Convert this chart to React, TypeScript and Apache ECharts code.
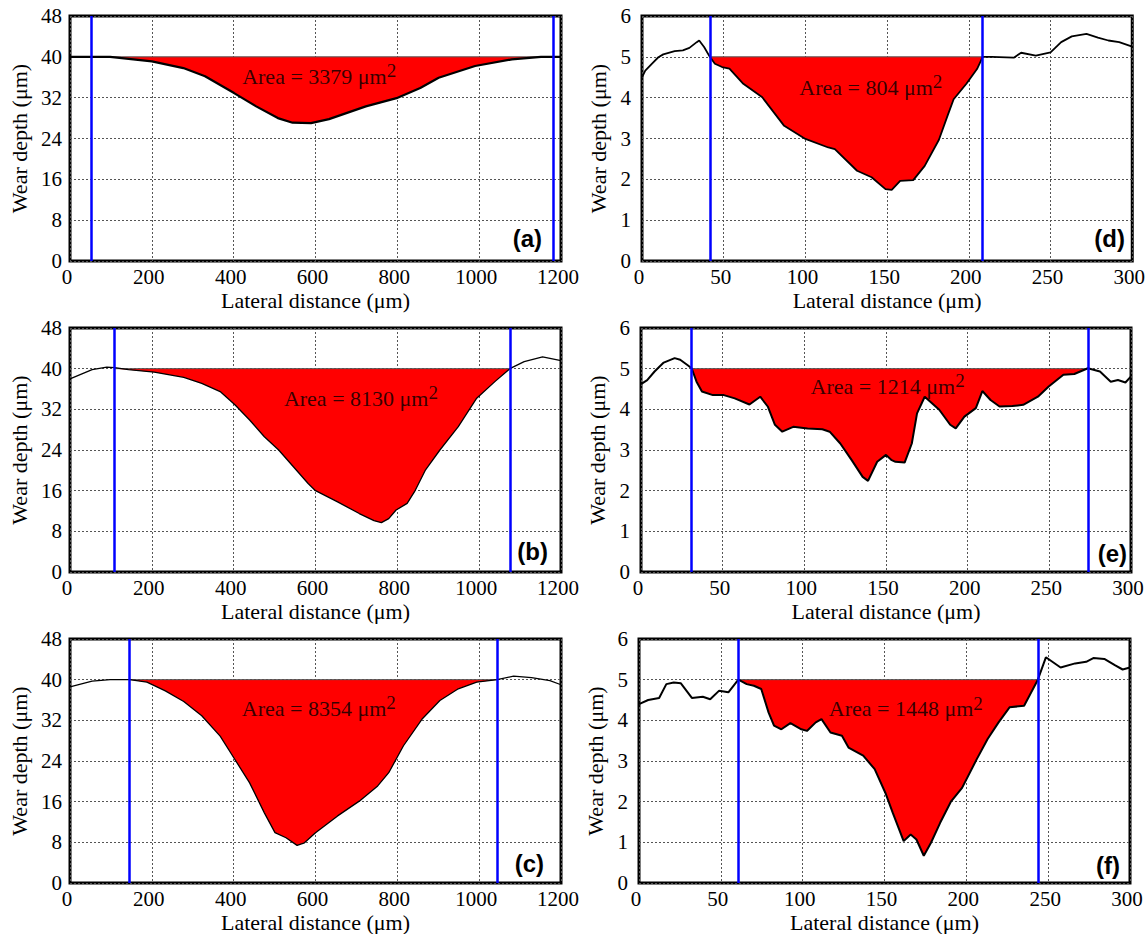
import React, { useEffect, useRef } from "react";
import * as echarts from "echarts";

// ---------- DATA ----------
// Panel (a)
const aX = [0, 51, 98, 200, 277, 330, 401, 455, 508, 544, 589, 633, 723, 798, 856, 901, 990, 1080, 1151, 1182, 1200];
const aY = [40, 40, 40, 39.1, 37.8, 36.2, 32.9, 30.3, 28.0, 27.1, 27.0, 27.8, 30.3, 31.9, 33.9, 35.9, 38.2, 39.5, 40, 40, 40];
// Panel (b)
const bX = [0, 54, 90, 109, 143, 206, 278, 322, 367, 403, 439, 475, 510, 546, 582, 600, 654, 707, 743, 761, 779, 797, 824, 842, 869, 904, 949, 994, 1039, 1075, 1110, 1155, 1200];
const bY = [38.0, 39.8, 40.3, 40.2, 39.8, 39.3, 38.3, 37.1, 35.5, 32.9, 29.9, 26.6, 24.0, 20.7, 17.4, 16.0, 13.8, 11.5, 10.1, 9.7, 10.5, 12.2, 13.5, 15.8, 20.1, 24.0, 28.6, 34.2, 37.5, 40.0, 41.4, 42.3, 41.6];
// Panel (c)
const cX = [0, 54, 98, 146, 188, 233, 278, 322, 367, 403, 439, 475, 501, 528, 555, 573, 600, 654, 707, 752, 779, 815, 860, 904, 949, 994, 1044, 1084, 1128, 1173, 1200];
const cY = [38.6, 39.7, 40.0, 40.0, 39.5, 37.8, 35.7, 32.9, 28.9, 24.3, 19.7, 13.8, 9.9, 8.9, 7.4, 7.9, 9.9, 13.2, 16.1, 19.1, 21.7, 27.0, 32.2, 35.9, 38.2, 39.5, 40.0, 40.7, 40.4, 39.8, 39.0];
// Panel (d)
const dX = [0, 2, 6, 10, 13, 20, 25, 29, 33.5, 35, 38, 41.5, 44.6, 49, 53.5, 62, 73.6, 87, 100, 114, 118, 131.6, 140.5, 149, 152.8, 158, 166, 173, 181.7, 187, 190.7, 198.5, 205, 208.5, 214, 227.5, 232, 241, 250, 256.5, 263, 272, 279, 285.4, 292, 300];
const dY = [4.5, 4.66, 4.83, 4.99, 5.06, 5.14, 5.16, 5.22, 5.36, 5.40, 5.24, 5.0, 4.83, 4.75, 4.71, 4.34, 4.01, 3.31, 2.99, 2.78, 2.74, 2.21, 2.05, 1.76, 1.74, 1.96, 1.98, 2.33, 2.97, 3.56, 3.96, 4.34, 4.7, 5.0, 5.0, 4.98, 5.10, 5.03, 5.11, 5.36, 5.50, 5.56, 5.47, 5.40, 5.36, 5.25];
// Panel (e)
const eX = [0, 3.8, 8.3, 13.9, 20.6, 24, 28.4, 31, 34, 37.3, 44, 50.7, 57.4, 66.4, 73, 77.6, 82, 86.5, 93.2, 102, 111, 115.5, 122, 129, 135.7, 139, 144.6, 150, 153.5, 155.8, 161.4, 165.8, 169, 173.7, 182.6, 189.3, 192.7, 198, 205, 209, 214, 219.5, 227.3, 234, 243, 249.6, 258.6, 265.3, 273.6, 281, 287.6, 292, 296.6, 300];
const eY = [4.62, 4.72, 4.93, 5.15, 5.26, 5.22, 5.09, 5.01, 4.68, 4.44, 4.35, 4.35, 4.27, 4.12, 4.31, 4.07, 3.62, 3.45, 3.57, 3.53, 3.51, 3.45, 3.16, 2.75, 2.34, 2.24, 2.71, 2.88, 2.75, 2.71, 2.69, 3.16, 3.90, 4.31, 3.99, 3.62, 3.53, 3.82, 4.03, 4.45, 4.23, 4.07, 4.08, 4.11, 4.31, 4.56, 4.85, 4.87, 5.01, 4.93, 4.68, 4.72, 4.66, 4.81];
// Panel (f)
const fX = [0, 5.6, 12.3, 16.7, 21.2, 25.6, 32.3, 39, 43.5, 49, 54.6, 60.7, 65.8, 70.2, 74.7, 79.2, 82.5, 87, 92.5, 99.2, 102.6, 108, 111.5, 117, 124, 128, 137, 144, 150.5, 155, 161.7, 166, 169.5, 174, 178.4, 184, 190.7, 197.4, 206.3, 213, 219.7, 226.4, 235.3, 243.7, 248.6, 257.6, 266.5, 273.2, 277.6, 284.3, 291, 295.5, 300];
const fY = [4.40, 4.50, 4.55, 4.89, 4.93, 4.91, 4.55, 4.58, 4.52, 4.73, 4.69, 5.0, 4.89, 4.85, 4.77, 4.19, 3.87, 3.78, 3.93, 3.78, 3.74, 3.95, 4.03, 3.70, 3.62, 3.33, 3.13, 2.80, 2.22, 1.73, 1.03, 1.19, 1.07, 0.67, 0.99, 1.48, 2.01, 2.34, 3.04, 3.54, 3.95, 4.32, 4.36, 5.0, 5.55, 5.30, 5.40, 5.44, 5.53, 5.51, 5.35, 5.25, 5.30];

// Blue boundary lines (x positions)
const blueA = [51, 1182];
const blueB = [109, 1075];
const blueC = [146, 1044];
const blueD = [41.5, 208.5];
const blueE = [31, 273.6];
const blueF = [60.7, 243.7];

// Reference levels
const baseLevels = [40, 40, 40, 5, 5, 5];
const panelLabels = ["(a)", "(b)", "(c)", "(d)", "(e)", "(f)"];
const areaValues = ["3379", "8130", "8354", "804", "1214", "1448"];
const areaLabelPos = [[609, 36.2], [711, 34.2], [608, 34.4], [140, 4.26], [151, 4.57], [163, 4.28]];

// Axis ranges
const wideX = { max: 1200, interval: 200 };
const narrowX = { max: 300, interval: 50 };
const deepY = { max: 48, interval: 8 };
const shallowY = { max: 6, interval: 1 };

const SERIF = "Liberation Serif";
const SANS = "Liberation Sans";

export default function App() {
  const ref = useRef<HTMLDivElement>(null);

  useEffect(() => {
    if (!ref.current) return;
    const chart = echarts.init(ref.current, null, { renderer: "svg" });

    const panels = [
      { xs: aX, ys: aY, blue: blueA, xr: wideX, yr: deepY, grid: { left: 70, top: 16, width: 491, height: 245 }, lw: 2.2, lab: [542, 250], col: 0 },
      { xs: bX, ys: bY, blue: blueB, xr: wideX, yr: deepY, grid: { left: 70, top: 328, width: 491, height: 244 }, lw: 1.3, lab: [548, 563], col: 0 },
      { xs: cX, ys: cY, blue: blueC, xr: wideX, yr: deepY, grid: { left: 70, top: 639, width: 491, height: 244 }, lw: 1.3, lab: [544, 875], col: 0 },
      { xs: dX, ys: dY, blue: blueD, xr: narrowX, yr: shallowY, grid: { left: 642, top: 16, width: 491, height: 245 }, lw: 1.8, lab: [1125, 250], col: 1 },
      { xs: eX, ys: eY, blue: blueE, xr: narrowX, yr: shallowY, grid: { left: 641, top: 328, width: 490, height: 244 }, lw: 2.0, lab: [1127, 565], col: 1 },
      { xs: fX, ys: fY, blue: blueF, xr: narrowX, yr: shallowY, grid: { left: 639, top: 639, width: 491, height: 244 }, lw: 2.0, lab: [1120, 877], col: 1 },
    ];

    const grids: any[] = [];
    const xAxes: any[] = [];
    const yAxes: any[] = [];
    const series: any[] = [];
    const graphics: any[] = [];

    panels.forEach((p, i) => {
      const base = baseLevels[i];
      grids.push({ ...p.grid, show: true, borderColor: "#000", borderWidth: 3, backgroundColor: "transparent" });
      const split = { show: true, lineStyle: { color: "#555", type: [2, 2], width: 1 } };
      xAxes.push({
        type: "value", gridIndex: i, min: 0, max: p.xr.max, interval: p.xr.interval,
        name: "Lateral distance (\u03bcm)", nameLocation: "middle", nameGap: 28,
        nameTextStyle: { fontFamily: SERIF, fontSize: 22, color: "#000" },
        axisLine: { show: false }, axisTick: { show: false },
        axisLabel: {
          fontFamily: SERIF, fontSize: 21, color: "#000", margin: 5, padding: [0, 6, 0, 0],
          formatter: (v: number) => String(v),
        },
        splitLine: split,
      });
      yAxes.push({
        type: "value", gridIndex: i, min: 0, max: p.yr.max, interval: p.yr.interval,
        name: "Wear depth (\u03bcm)", nameLocation: "middle", nameGap: p.col === 0 ? 40 : 33,
        nameTextStyle: { fontFamily: SERIF, fontSize: 22, color: "#000" },
        axisLine: { show: false }, axisTick: { show: false },
        axisLabel: {
          fontFamily: SERIF, fontSize: 21, color: "#000", margin: p.col === 0 ? 8 : 11,
          formatter: (v: number) => String(v),
        },
        splitLine: split,
      });

      const [L, R] = p.blue;
      const fillPts: number[][] = [];
      p.xs.forEach((x, k) => {
        if (x >= L && x <= R) fillPts.push([x, Math.min(p.ys[k], base)]);
      });

      // red worn area between the reference level and the profile
      series.push({
        type: "custom", xAxisIndex: i, yAxisIndex: i, silent: true, z: 2,
        data: fillPts, encode: { x: 0, y: 1 },
        renderItem: (params: any, api: any) => {
          if (params.dataIndex !== 0) return null;
          const pts = fillPts.map((pt) => api.coord(pt));
          const topR = api.coord([fillPts[fillPts.length - 1][0], base]);
          const topL = api.coord([fillPts[0][0], base]);
          return {
            type: "group",
            children: [
              { type: "polygon", shape: { points: [...pts, topR, topL] }, style: { fill: "#ff0000", stroke: "none" } },
              { type: "line", shape: { x1: topL[0], y1: topL[1], x2: topR[0], y2: topR[1] }, style: { stroke: "#555", lineWidth: 1 } },
            ],
          };
        },
      });
      series.push({
        type: "line", xAxisIndex: i, yAxisIndex: i, silent: true,
        data: p.xs.map((x, k) => [x, p.ys[k]]), symbol: "none",
        lineStyle: { color: "#000", width: p.lw }, z: 3,
        markLine: {
          silent: true, symbol: ["none", "none"], label: { show: false },
          lineStyle: { color: "#0000ff", width: 2.5, type: "solid" },
          data: p.blue.map((v) => ({ xAxis: v })),
        },
      });
      series.push({
        type: "scatter", xAxisIndex: i, yAxisIndex: i, silent: true, z: 5,
        data: [areaLabelPos[i]], symbolSize: 1, itemStyle: { color: "rgba(0,0,0,0)" },
        label: {
          show: true, position: "inside",
          formatter: "{m|Area = " + areaValues[i] + " \u03bcm}{s|2}",
          rich: {
            m: { fontFamily: SERIF, fontSize: 22, color: "#000", lineHeight: 30 },
            s: { fontFamily: SERIF, fontSize: 19, color: "#000", lineHeight: 18, verticalAlign: "top" },
          },
        },
      });

      graphics.push({
        type: "text", x: p.lab[0], y: p.lab[1], z: 10,
        style: {
          text: panelLabels[i], fill: "#000", fontFamily: SANS, fontWeight: "bold", fontSize: 24,
          align: "right", verticalAlign: "bottom",
        },
      });
    });

    chart.setOption({
      animation: false,
      backgroundColor: "#fff",
      textStyle: { fontFamily: SERIF },
      grid: grids,
      xAxis: xAxes,
      yAxis: yAxes,
      series,
      graphic: graphics,
    });

    return () => chart.dispose();
  }, []);

  return <div ref={ref} style={{ position: "absolute", left: 0, top: 0, width: 1148, height: 934 }} />;
}
